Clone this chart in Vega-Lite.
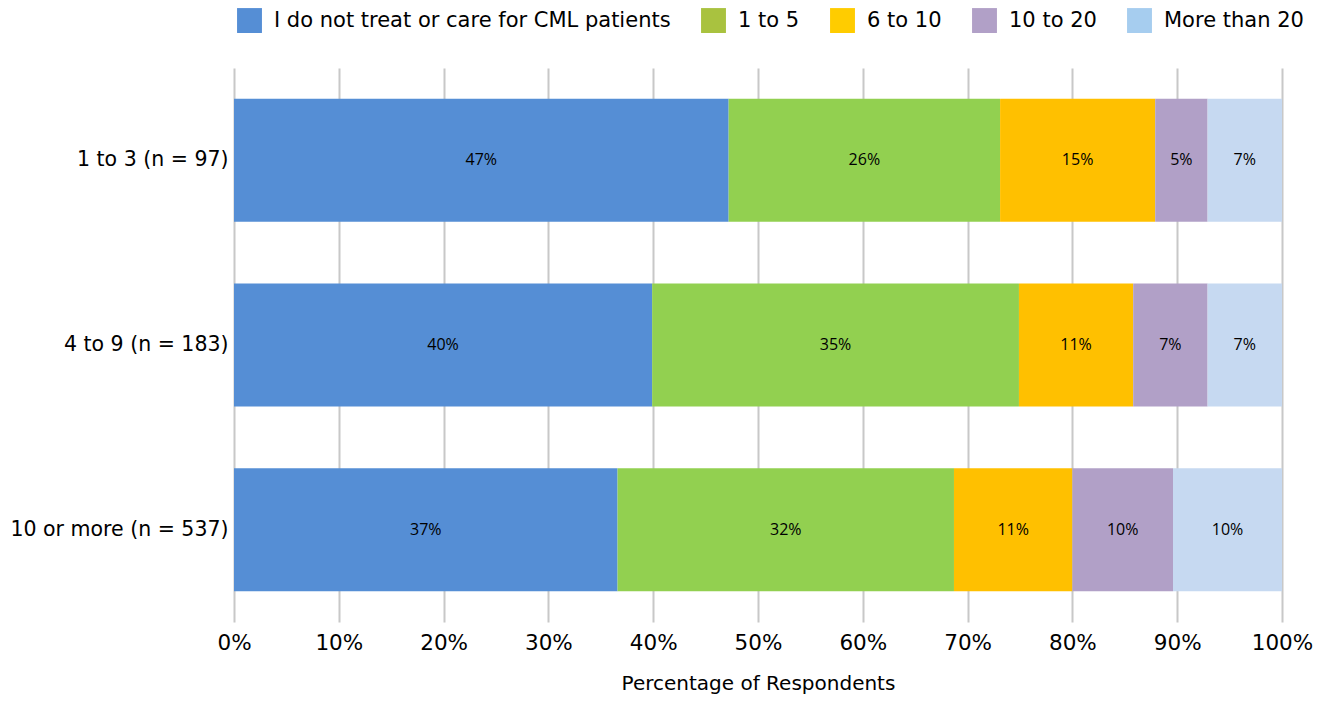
{
  "$schema": "https://vega.github.io/schema/vega-lite/v6.json",
  "autosize": {"type": "none"},
  "padding": {"left": 234, "top": 68, "right": 53, "bottom": 86},
  "width": 1048,
  "height": 554,
  "background": "white",
  "config": {
    "view": {"stroke": null},
    "font": "DejaVu Sans",
    "axis": {"labelFont": "DejaVu Sans", "titleFont": "DejaVu Sans", "labelColor": "#000000", "titleColor": "#000000"}
  },
  "data": {
    "values": [
      {"group": "1 to 3 (n = 97)", "cat": "I do not treat or care for CML patients", "ord": 1, "value": 0.472},
      {"group": "1 to 3 (n = 97)", "cat": "1 to 5", "ord": 2, "value": 0.259},
      {"group": "1 to 3 (n = 97)", "cat": "6 to 10", "ord": 3, "value": 0.148},
      {"group": "1 to 3 (n = 97)", "cat": "10 to 20", "ord": 4, "value": 0.050},
      {"group": "1 to 3 (n = 97)", "cat": "More than 20", "ord": 5, "value": 0.071},
      {"group": "4 to 9 (n = 183)", "cat": "I do not treat or care for CML patients", "ord": 1, "value": 0.399},
      {"group": "4 to 9 (n = 183)", "cat": "1 to 5", "ord": 2, "value": 0.350},
      {"group": "4 to 9 (n = 183)", "cat": "6 to 10", "ord": 3, "value": 0.109},
      {"group": "4 to 9 (n = 183)", "cat": "10 to 20", "ord": 4, "value": 0.071},
      {"group": "4 to 9 (n = 183)", "cat": "More than 20", "ord": 5, "value": 0.071},
      {"group": "10 or more (n = 537)", "cat": "I do not treat or care for CML patients", "ord": 1, "value": 0.366},
      {"group": "10 or more (n = 537)", "cat": "1 to 5", "ord": 2, "value": 0.321},
      {"group": "10 or more (n = 537)", "cat": "6 to 10", "ord": 3, "value": 0.113},
      {"group": "10 or more (n = 537)", "cat": "10 to 20", "ord": 4, "value": 0.096},
      {"group": "10 or more (n = 537)", "cat": "More than 20", "ord": 5, "value": 0.104}
    ]
  },
  "transform": [
    {"stack": "value", "groupby": ["group"], "sort": [{"field": "ord", "order": "ascending"}], "as": ["x0", "x1"]},
    {"calculate": "(datum.x0 + datum.x1) / 2", "as": "xmid"}
  ],
  "encoding": {
    "y": {
      "field": "group", "type": "nominal",
      "sort": ["1 to 3 (n = 97)", "4 to 9 (n = 183)", "10 or more (n = 537)"],
      "scale": {"paddingInner": 0.335, "paddingOuter": 0.167},
      "axis": {"title": null, "ticks": false, "domain": false, "labelFontSize": 20.5, "labelPadding": 6, "grid": false, "labelLimit": 400}
    }
  },
  "layer": [
    {
      "mark": {"type": "bar"},
      "encoding": {
        "x": {
          "field": "x0", "type": "quantitative",
          "scale": {"domain": [0, 1], "nice": false},
          "axis": {
            "title": "Percentage of Respondents", "format": ".0%", "values": [0, 0.1, 0.2, 0.3, 0.4, 0.5, 0.6, 0.7, 0.8, 0.9, 1],
            "grid": true, "gridColor": "#C8C8C8", "gridWidth": 2, "domain": false, "ticks": false, "labelOverlap": false,
            "labelFontSize": 21.5, "labelPadding": 10, "titleFontSize": 20, "titleFontWeight": "normal", "titlePadding": 20, "labelFlush": false
          }
        },
        "x2": {"field": "x1"},
        "color": {
          "field": "cat", "type": "nominal", "legend": null,
          "scale": {
            "domain": ["I do not treat or care for CML patients", "1 to 5", "6 to 10", "10 to 20", "More than 20"],
            "range": ["#558ED5", "#92D050", "#FFC000", "#B1A0C7", "#C6D9F1"]
          }
        }
      }
    },
    {
      "mark": {"type": "text", "font": "Open Sans", "fontSize": 16, "color": "#000000"},
      "encoding": {
        "x": {"field": "xmid", "type": "quantitative"},
        "text": {"field": "value", "type": "quantitative", "format": ".0%"}
      }
    },
    {
      "mark": {"type": "square", "opacity": 0},
      "encoding": {
        "x": {"field": "xmid", "type": "quantitative"},
        "fill": {
          "field": "cat", "type": "nominal",
          "scale": {
            "domain": ["I do not treat or care for CML patients", "1 to 5", "6 to 10", "10 to 20", "More than 20"],
            "range": ["#558ED5", "#A9C23F", "#FFCC00", "#B1A0C7", "#A6CDEF"]
          },
          "legend": {
            "title": null, "orient": "none", "legendX": 3, "legendY": -60, "direction": "horizontal",
            "symbolType": "square", "symbolSize": 620, "symbolOpacity": 1, "symbolStrokeWidth": 0,
            "labelFontSize": 21, "labelFont": "DejaVu Sans", "labelColor": "#000000", "columnPadding": 30, "labelOffset": 12,
            "labelLimit": 600
          }
        }
      }
    }
  ],
  "resolve": {"scale": {"color": "independent", "fill": "independent"}}
}
